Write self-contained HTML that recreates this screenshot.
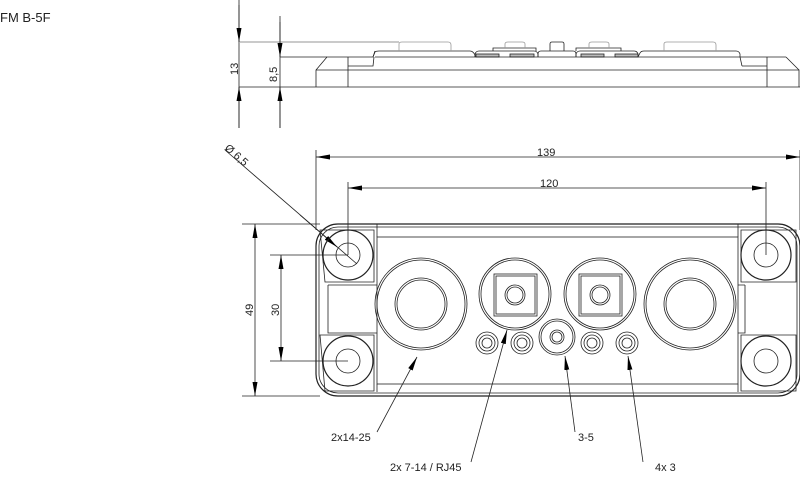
<!DOCTYPE html>
<html><head><meta charset="utf-8"><style>
html,body{margin:0;padding:0;background:#fff;width:800px;height:477px;overflow:hidden}
svg{display:block}
text{font-family:"Liberation Sans",sans-serif;font-size:11px;fill:#222}
</style></head><body>
<svg width="800" height="477" viewBox="0 0 800 477" xmlns="http://www.w3.org/2000/svg">
<defs>
<marker id="a" viewBox="0 0 14 5" refX="14" refY="2.5" markerWidth="14" markerHeight="5" orient="auto-start-reverse" markerUnits="userSpaceOnUse"><path d="M0,0L14,2.5L0,5z" fill="#000"/></marker>
</defs>
<text x="0" y="22" style="font-size:13px">FM B-5F</text>
<g fill="none" stroke="#222" stroke-width="0.8">
<!-- side view -->
<line x1="239" y1="0" x2="239" y2="128"/>
<line x1="280" y1="16" x2="280" y2="128"/>
<line x1="239" y1="42" x2="399" y2="42" stroke="#aaa" stroke-width="1.2"/>
<line x1="280" y1="57" x2="327" y2="57"/>
<line x1="239" y1="87" x2="800" y2="87"/>
<path d="M239,5V42" marker-end="url(#a)"/><path d="M239,128V87" marker-end="url(#a)"/>
<path d="M280,22V57" marker-end="url(#a)"/><path d="M280,128V87" marker-end="url(#a)"/>
<path d="M316,87V70L327,57H373L375,51M348,57V87M316,70H799V87"/>
<path d="M348,66H373L374,57"/>
<path d="M767,57V87M742,66H767M786,57L799,70M740,57H786"/>
<path d="M373,57L375,52Q376,51 379,51H470Q473,51 475,55V57"/>
<path d="M399,51V44Q399,42 402,42H448Q451,42 451,45V51" stroke="#999"/>
<path d="M475,57V54Q476,51 479,51H534Q537,51 538,54V57M493,51V48H536V51"/>
<path d="M505,48V44Q505,42 508,42H522Q525,42 525,44V48" stroke="#999"/>
<rect x="476" y="54" width="23" height="3" fill="#bbb"/><rect x="510" y="54" width="24" height="3" fill="#bbb"/>
<path d="M538,57V54Q538,51 541,51H573Q576,51 576,54V57"/>
<path d="M550,51V44Q550,42 552,42H562Q564,42 564,44V51"/>
<path d="M576,57V54Q577,51 580,51H634Q637,51 638,54V57M576,51V48H621V51"/>
<path d="M589,48V44Q589,42 592,42H606Q609,42 609,44V48" stroke="#999"/>
<rect x="581" y="54" width="23" height="3" fill="#bbb"/><rect x="615" y="54" width="23" height="3" fill="#bbb"/>
<path d="M638,57L640,53Q641,51 644,51H736Q739,51 740,54V57L742,66"/>
<path d="M664,51V44Q664,42 667,42H713Q716,42 716,45V51" stroke="#999"/>
<path d="M375,57H740"/>
<!-- dimensions top -->
<line x1="316" y1="150" x2="316" y2="230"/>
<line x1="800" y1="150" x2="800" y2="230"/>
<path d="M330,157H316" marker-end="url(#a)"/><path d="M330,157H800" marker-end="url(#a)"/>
<line x1="348" y1="182" x2="348" y2="255"/>
<line x1="766" y1="182" x2="766" y2="255"/>
<path d="M500,188H348" marker-end="url(#a)"/><path d="M500,188H766" marker-end="url(#a)"/>
<line x1="225" y1="150" x2="357" y2="264"/>
<path d="M300,215L337,247" marker-end="url(#a)"/>
<line x1="242" y1="224" x2="320" y2="224"/>
<line x1="242" y1="396" x2="320" y2="396"/>
<path d="M255,310V224" marker-end="url(#a)"/><path d="M255,310V396" marker-end="url(#a)"/>
<line x1="270" y1="255" x2="348" y2="255"/>
<line x1="270" y1="361" x2="348" y2="361"/>
<path d="M281,310V255" marker-end="url(#a)"/><path d="M281,310V361" marker-end="url(#a)"/>
<!-- plate -->
<rect x="316" y="224" width="484" height="172" rx="22" stroke-width="1.2"/>
<rect x="319" y="227" width="478" height="166" rx="19"/>
<rect x="377" y="237" width="361" height="147"/>
<path d="M377,384V392M738,384V392M377,224V237M738,224V237"/>
<path d="M328,285V333H377M745,285V333H738M328,285H377M745,285H738"/>
<!-- mounting -->
<g>
<path d="M320,230H374V282H325Z"/><circle cx="348" cy="255" r="25" stroke-width="1.2"/><circle cx="348" cy="255" r="12"/>
<path d="M320,335H374V391H325Z"/><circle cx="348" cy="361" r="25" stroke-width="1.2"/><circle cx="348" cy="361" r="12"/>
<path d="M741,230H796V282H741Z"/><circle cx="766" cy="255" r="25" stroke-width="1.2"/><circle cx="766" cy="255" r="12"/>
<path d="M741,335H796V391H741Z"/><circle cx="766" cy="361" r="25" stroke-width="1.2"/><circle cx="766" cy="361" r="12"/>
</g>
<!-- big rings -->
<circle cx="421" cy="304" r="46"/><circle cx="421" cy="304" r="44"/><circle cx="421" cy="304" r="26"/><circle cx="421" cy="304" r="24"/>
<circle cx="690" cy="304" r="46"/><circle cx="690" cy="304" r="44"/><circle cx="690" cy="304" r="26"/><circle cx="690" cy="304" r="24"/>
<!-- RJ45 -->
<circle cx="515" cy="294" r="36"/><circle cx="515" cy="294" r="34"/><rect x="494" y="274" width="43" height="42"/><rect x="496" y="276" width="39" height="38"/><circle cx="515" cy="295" r="10"/><circle cx="515" cy="295" r="8"/>
<circle cx="600" cy="294" r="36"/><circle cx="600" cy="294" r="34"/><rect x="579" y="274" width="43" height="42"/><rect x="581" y="276" width="39" height="38"/><circle cx="600" cy="295" r="10"/><circle cx="600" cy="295" r="8"/>
<!-- center -->
<circle cx="557" cy="337" r="18"/><circle cx="557" cy="337" r="16"/><circle cx="557" cy="337" r="7"/><circle cx="557" cy="337" r="5"/>
<g>
<circle cx="487" cy="343" r="11"/><circle cx="487" cy="343" r="8"/><circle cx="487" cy="343" r="5"/>
<circle cx="522" cy="343" r="11"/><circle cx="522" cy="343" r="8"/><circle cx="522" cy="343" r="5"/>
<circle cx="592" cy="343" r="11"/><circle cx="592" cy="343" r="8"/><circle cx="592" cy="343" r="5"/>
<circle cx="627" cy="343" r="11"/><circle cx="627" cy="343" r="8"/><circle cx="627" cy="343" r="5"/>
</g>
<!-- leaders -->
<path d="M377,432L417,357" marker-end="url(#a)"/>
<path d="M471,462L507,330" marker-end="url(#a)"/>
<path d="M575,432L565,356" marker-end="url(#a)"/>
<path d="M643,462L628,356" marker-end="url(#a)"/>
</g>
<text x="537" y="156">139</text>
<text x="540" y="187">120</text>
<text transform="translate(238,75) rotate(-90)">13</text>
<text transform="translate(277,82) rotate(-90)">8,5</text>
<text transform="translate(253,316) rotate(-90)">49</text>
<text transform="translate(279,316) rotate(-90)">30</text>
<text transform="translate(224,149) rotate(41)">Ø 6,5</text>
<text x="331" y="441">2x14-25</text>
<text x="390" y="471">2x 7-14 / RJ45</text>
<text x="578" y="441">3-5</text>
<text x="655" y="471">4x 3</text>
</svg>
</body></html>
